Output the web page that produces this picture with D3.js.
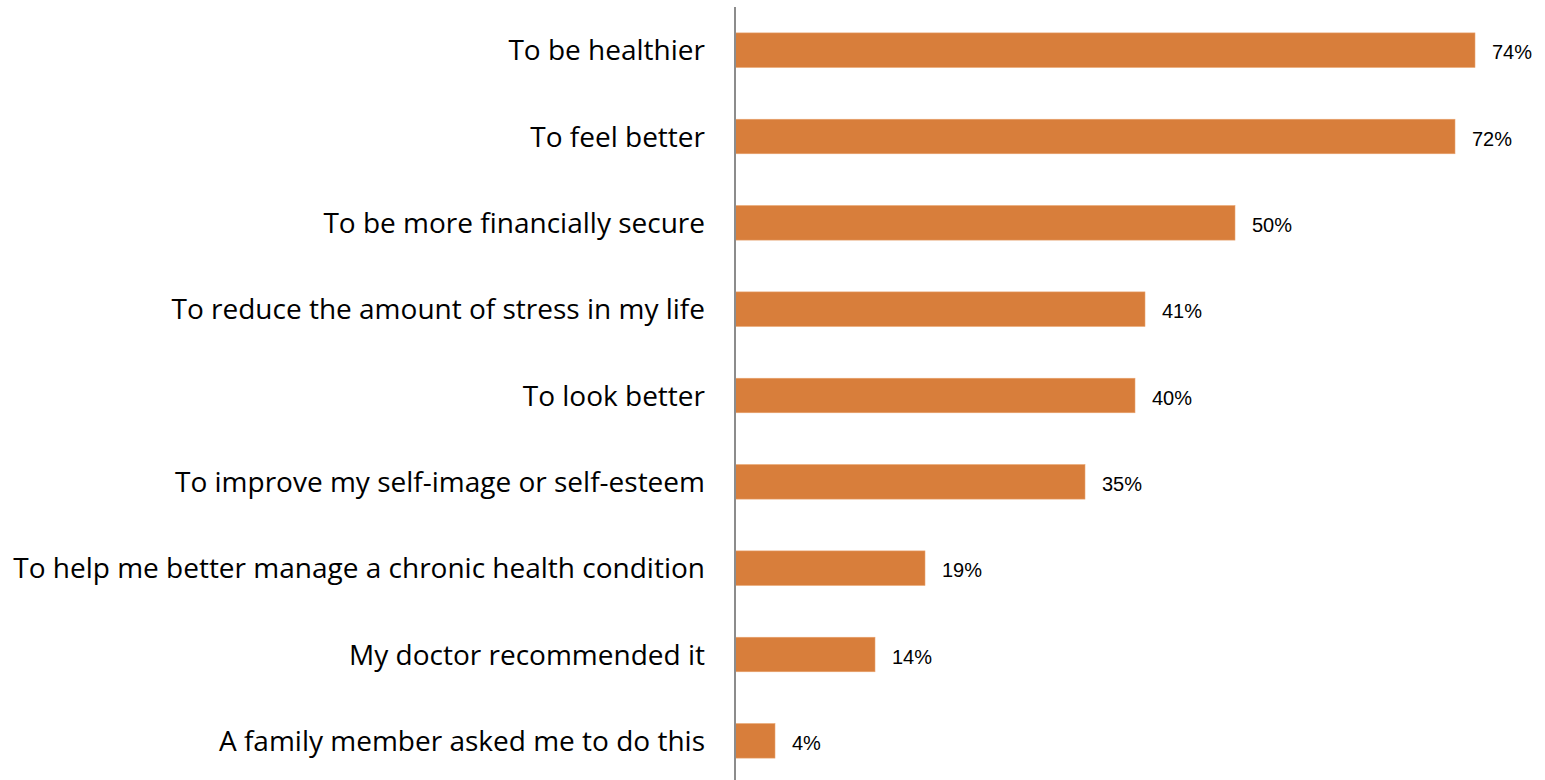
<!DOCTYPE html>
<html>
<head>
<meta charset="utf-8">
<script src="https://cdn.jsdelivr.net/npm/d3@7"></script>
<style>
  html, body { margin: 0; padding: 0; background: #fff; }
  svg { display: block; }
</style>
</head>
<body>
<svg id="chart" width="1545" height="780"></svg>
<script>
// Reasons for making a lifestyle change (% of respondents)
const categories = [
  "To be healthier",
  "To feel better",
  "To be more financially secure",
  "To reduce the amount of stress in my life",
  "To look better",
  "To improve my self-image or self-esteem",
  "To help me better manage a chronic health condition",
  "My doctor recommended it",
  "A family member asked me to do this"
];
const values = [74, 72, 50, 41, 40, 35, 19, 14, 4];

const svg = d3.select("#chart");
const axisX = 735;

const x = d3.scaleLinear().domain([0, 100]).range([axisX, axisX + 1000]);
const y = d3.scaleBand()
  .domain(categories)
  .range([7, 784])
  .paddingInner(0.6)
  .paddingOuter(0.3);

// Bars
svg.append("g").selectAll("rect")
  .data(values)
  .join("rect")
  .attr("x", x(0))
  .attr("y", (d, i) => y(categories[i]))
  .attr("width", d => x(d) - x(0))
  .attr("height", y.bandwidth())
  .attr("fill", "#D87E3B")
  .attr("stroke", "#E9A36F")
  .attr("stroke-width", 0.6);

// Category axis line
svg.append("line")
  .attr("x1", axisX).attr("x2", axisX)
  .attr("y1", 7).attr("y2", 780)
  .attr("stroke", "#8c8c8c")
  .attr("stroke-width", 2);

// Category labels
svg.append("g").selectAll("text")
  .data(categories)
  .join("text")
  .attr("x", axisX - 30)
  .attr("y", d => y(d) + y.bandwidth() / 2 + 10)
  .attr("text-anchor", "end")
  .attr("font-family", "'Open Sans', sans-serif")
  .attr("font-size", 28)
  .attr("fill", "#000")
  .text(d => d);

// Value labels
svg.append("g").selectAll("text")
  .data(values)
  .join("text")
  .attr("x", d => x(d) + 17)
  .attr("y", (d, i) => y(categories[i]) + y.bandwidth() / 2 + 9)
  .attr("font-family", "'Liberation Sans', Arial, sans-serif")
  .attr("font-size", 20)
  .attr("fill", "#000")
  .text(d => d + "%");
</script>
</body>
</html>
